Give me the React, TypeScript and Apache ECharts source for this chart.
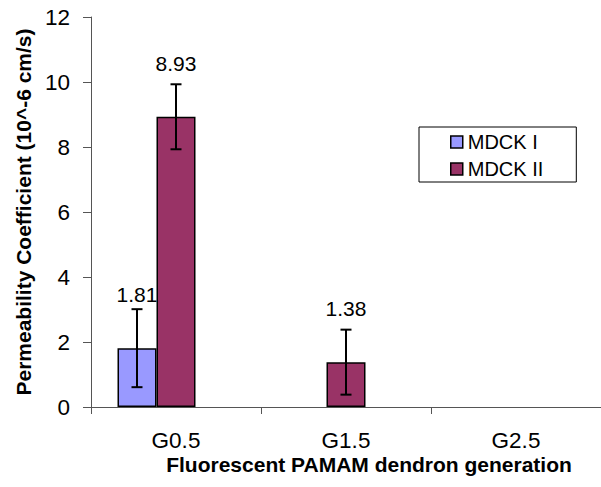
import React, { useEffect, useRef } from "react";
import * as echarts from "echarts";

const categories = ["G0.5", "G1.5", "G2.5"];
const seriesNames = ["MDCK I", "MDCK II"];
const mdck1 = [1.81, null, null];
const mdck2 = [8.93, 1.38, null];
const mdck1Err = [1.2, null, null];
const mdck2Err = [1.0, 1.0, null];
const yMin = 0;
const yMax = 12;
const yInterval = 2;

const FONT = 'Arial, "Liberation Sans", sans-serif';
const BAR_W = 39;

function errData(vals: (number | null)[], errs: (number | null)[]) {
  const out: any[] = [];
  vals.forEach((v, i) => {
    const e = errs[i];
    if (v != null && e != null) out.push([i, v - e, v + e]);
  });
  return out;
}

function errSeries(vals: (number | null)[], errs: (number | null)[], slot: number) {
  return {
    type: "custom",
    coordinateSystem: "cartesian2d",
    z: 5,
    silent: true,
    encode: { x: 0, y: [1, 2] },
    data: errData(vals, errs),
    renderItem: (params: any, api: any) => {
      const ci = api.value(0);
      const lo = api.coord([ci, api.value(1)]);
      const hi = api.coord([ci, api.value(2)]);
      const x = lo[0] + slot * BAR_W;
      const cap = 5.5;
      const style = { stroke: "#000", lineWidth: 2 };
      return {
        type: "group",
        children: [
          { type: "line", shape: { x1: x, y1: lo[1], x2: x, y2: hi[1] }, style },
          { type: "line", shape: { x1: x - cap, y1: hi[1], x2: x + cap, y2: hi[1] }, style },
          { type: "line", shape: { x1: x - cap, y1: lo[1], x2: x + cap, y2: lo[1] }, style },
        ],
      };
    },
  };
}

export default function App() {
  const ref = useRef<HTMLDivElement>(null);
  useEffect(() => {
    document.body.style.margin = "0";
    const chart = echarts.init(ref.current!, null, { renderer: "svg" });
    const barLabel = {
      show: true,
      position: "top",
      distance: 43,
      fontSize: 21,
      fontFamily: FONT,
      color: "#000",
      formatter: (p: any) => Number(p.value).toFixed(2),
    };
    chart.setOption({
      animation: false,
      backgroundColor: "#fff",
      grid: { left: 91, top: 17, width: 519, height: 390, containLabel: false },
      legend: {
        orient: "vertical",
        left: 419,
        top: 127,
        data: seriesNames,
        icon: "rect",
        itemWidth: 12,
        itemHeight: 12,
        itemGap: 7,
        padding: [5, 33, 3, 31],
        borderColor: "#000",
        borderWidth: 1,
        backgroundColor: "#fff",
        textStyle: { fontSize: 20, fontFamily: FONT, color: "#000" },
        itemStyle: { borderColor: "#000", borderWidth: 1.5 },
      },
      xAxis: {
        type: "category",
        data: categories,
        boundaryGap: true,
        axisLine: { lineStyle: { color: "#555", width: 1 } },
        axisTick: { show: true, length: 7, lineStyle: { color: "#555" } },
        axisLabel: { fontSize: 22.5, fontFamily: FONT, color: "#000", margin: 22 },
        splitLine: { show: false },
      },
      yAxis: {
        type: "value",
        min: yMin,
        max: yMax,
        interval: yInterval,
        name: "Permeability Coefficient (10^-6 cm/s)",
        nameLocation: "middle",
        nameGap: 52,
        nameTextStyle: { fontSize: 21, fontWeight: "bold", fontFamily: FONT, color: "#000" },
        axisLine: { show: true, lineStyle: { color: "#555", width: 1 } },
        axisTick: { show: true, length: 8, lineStyle: { color: "#555" } },
        axisLabel: { fontSize: 22.5, fontFamily: FONT, color: "#000", margin: 21 },
        splitLine: { show: false },
      },
      graphic: [
        {
          type: "text",
          x: 369,
          y: 464,
          style: {
            text: "Fluorescent PAMAM dendron generation",
            fontSize: 21,
            fontWeight: "bold",
            fontFamily: FONT,
            fill: "#000",
            align: "center",
            verticalAlign: "middle",
          },
        },
      ],
      series: [
        {
          name: seriesNames[0],
          type: "bar",
          data: mdck1,
          barWidth: BAR_W,
          barGap: "0%",
          itemStyle: { color: "#9999FF", borderColor: "#000", borderWidth: 1.5 },
          label: barLabel,
        },
        {
          name: seriesNames[1],
          type: "bar",
          data: mdck2,
          barWidth: BAR_W,
          barGap: "0%",
          itemStyle: { color: "#993366", borderColor: "#000", borderWidth: 1.5 },
          label: barLabel,
        },
        {
          name: "_spacer",
          type: "bar",
          data: [null, null, null],
          barWidth: BAR_W,
          barGap: "0%",
          silent: true,
        },
        errSeries(mdck1, mdck1Err, -1),
        errSeries(mdck2, mdck2Err, 0),
      ],
    });
    return () => chart.dispose();
  }, []);
  return <div ref={ref} style={{ width: 601, height: 487 }} />;
}
